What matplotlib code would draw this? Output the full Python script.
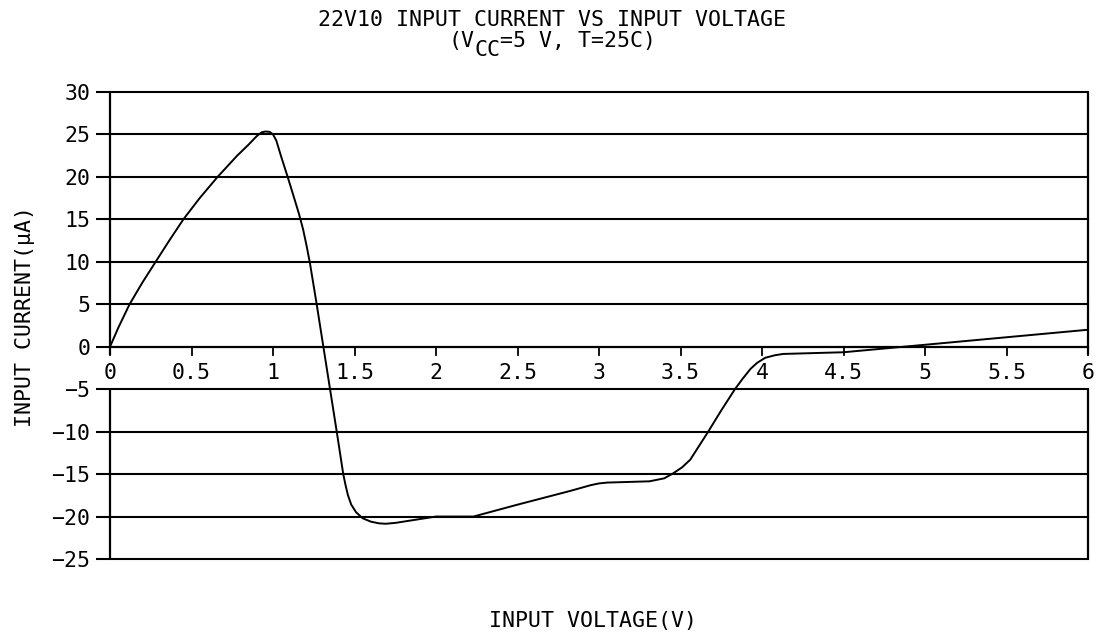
import matplotlib
matplotlib.use("Agg")
import matplotlib.pyplot as plt
from matplotlib.transforms import offset_copy

# Data
voltage = [0, 0.05, 0.12, 0.2, 0.28, 0.36, 0.45, 0.55, 0.66, 0.78, 0.85, 0.9, 0.93,
           0.955, 0.98, 1.0, 1.02, 1.05, 1.09, 1.13, 1.16, 1.185, 1.207, 1.227, 1.268,
           1.309, 1.35, 1.391, 1.431, 1.445, 1.46, 1.48, 1.51, 1.55, 1.6, 1.65, 1.69,
           1.75, 2.0, 2.23, 2.5, 2.82, 2.95, 3.0, 3.05, 3.31, 3.4, 3.456, 3.51, 3.56,
           3.67, 3.75, 3.834, 3.88, 3.93, 3.97, 4.02, 4.08, 4.13, 4.5, 5.0, 6.0]
current = [0, 2.2, 5, 7.6, 10, 12.4, 15, 17.5, 20, 22.5, 23.8, 24.8, 25.25,
           25.35, 25.3, 25.0, 24.3, 22.4, 20, 17.5, 15.6, 13.8, 11.8, 9.8, 5,
           0, -5, -10, -15, -16.3, -17.5, -18.6, -19.5, -20.2, -20.6, -20.8, -20.85,
           -20.75, -20.0, -20.0, -18.6, -17.0, -16.3, -16.1, -16.0, -15.85, -15.5, -14.9, -14.2, -13.3,
           -10.0, -7.5, -5.0, -3.8, -2.6, -1.9, -1.3, -1.0, -0.85, -0.65, 0.23, 2.0]

x_ticks = [0, 0.5, 1, 1.5, 2, 2.5, 3, 3.5, 4, 4.5, 5, 5.5, 6]
x_tick_labels = ["0", "0.5", "1", "1.5", "2", "2.5", "3", "3.5", "4", "4.5", "5", "5.5", "6"]
y_ticks = [30, 25, 20, 15, 10, 5, 0, -5, -10, -15, -20, -25]

title1 = "22V10 INPUT CURRENT VS INPUT VOLTAGE"
title2_left = "(V"
title2_sub = "CC"
title2_right = "=5 V, T=25C)"
xlabel = "INPUT VOLTAGE(V)"
ylabel = "INPUT CURRENT(μA)"

plt.rcParams['font.family'] = ['DejaVu Sans Mono', 'DejaVu Sans']
FS = 15.5

W, H = 1104, 635
fig = plt.figure(figsize=(W / 100, H / 100), dpi=100)
ax = fig.add_axes([110 / W, 1 - 559 / H, (1088 - 110) / W, (559 - 92) / H])

ax.set_xlim(0, 6)
ax.set_ylim(-25, 30)

for s in ['left', 'right', 'top', 'bottom']:
    ax.spines[s].set_visible(False)

# horizontal grid lines (and the top / bottom frame)
for yv in y_ticks:
    if yv != 0:
        ax.axhline(yv, color='black', lw=1.5, zorder=1, clip_on=False)
ax.axhline(0, color='black', lw=1.6, zorder=2, clip_on=False)

# vertical frame lines, interrupted where the x tick labels sit
tick_len_data = 8 / 8.5
for xv in (0, 6):
    ax.plot([xv, xv], [30, -tick_len_data], color='black', lw=1.6, clip_on=False,
            solid_capstyle='butt', zorder=2)
    ax.plot([xv, xv], [-5, -25], color='black', lw=1.6, clip_on=False,
            solid_capstyle='butt', zorder=2)

# x ticks drawn below the zero line
for xv, lab in zip(x_ticks, x_tick_labels):
    ax.plot([xv, xv], [0, -tick_len_data], color='black', lw=1.3, clip_on=False, zorder=2)
    ax.text(xv, -1.9, lab, ha='center', va='top', fontsize=FS, color='black')
ax.set_xticks([])

ax.set_yticks(y_ticks)
ax.set_yticklabels([str(v).replace('-', '\u2212') for v in y_ticks], fontsize=FS)
ax.tick_params(axis='y', direction='out', length=10, width=1.5, pad=4, color='black')

ax.plot(voltage, current, color='black', lw=1.4, zorder=3)

fig.text(0.5, 1 - 20 / H, title1, ha='center', va='center', fontsize=FS)

char_w = FS * 100 / 72 * 0.602
y2 = 1 - 41 / H
tr_l = offset_copy(fig.transFigure, fig=fig, x=-6 * char_w, y=0, units='dots')
tr_s = offset_copy(fig.transFigure, fig=fig, x=-5 * char_w, y=-9, units='dots')
tr_r = offset_copy(fig.transFigure, fig=fig, x=-4 * char_w, y=0, units='dots')
fig.text(0.5, y2, title2_left, ha='right', va='center', fontsize=FS, transform=tr_l)
fig.text(0.5, y2, title2_sub, ha='center', va='center', fontsize=FS, transform=tr_s)
fig.text(0.5, y2, title2_right, ha='left', va='center', fontsize=FS, transform=tr_r)

fig.text(593 / W, 1 - 621 / H, xlabel, ha='center', va='center', fontsize=FS)
fig.text(25 / W, 1 - 316 / H, ylabel, ha='center', va='center', rotation=90, fontsize=FS)

fig.savefig("out.png", dpi=100, facecolor='white')
